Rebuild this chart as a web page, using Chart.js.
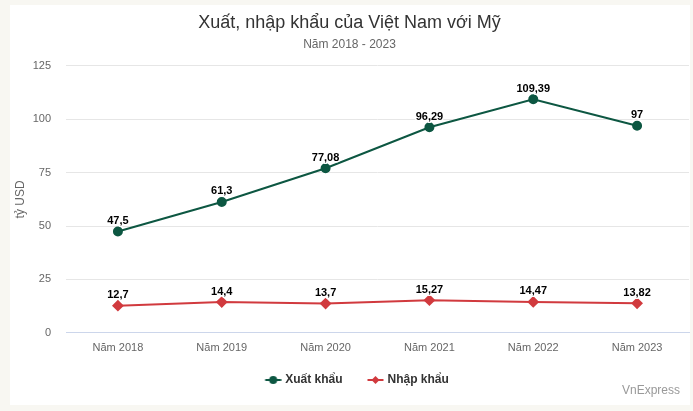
<!DOCTYPE html>
<html>
<head>
<meta charset="utf-8">
<script src="https://cdn.jsdelivr.net/npm/chart.js@4.4.1/dist/chart.umd.min.js"></script>
<style>
    html, body { margin: 0; padding: 0; background: #f8f7f2; }
    body { width: 693px; height: 411px; position: relative; overflow: hidden; font-family: "Liberation Sans", Arial, sans-serif; }
    #card { position: absolute; left: 10px; top: 5px; width: 680px; height: 400px; background: #fff; }
    #chart { display: block; }
    #credit { position: absolute; right: 10px; bottom: 8px; font-size: 12px; color: #999; }
</style>
</head>
<body>
<div id="card">
    <canvas id="chart" width="680" height="400"></canvas>
    <div id="credit">VnExpress</div>
</div>
<script>
// Chart data
const years = ['Năm 2018', 'Năm 2019', 'Năm 2020', 'Năm 2021', 'Năm 2022', 'Năm 2023'];
const exportValues = [47.5, 61.3, 77.08, 96.29, 109.39, 97];
const importValues = [12.7, 14.4, 13.7, 15.27, 14.47, 13.82];
const yTicks = [0, 25, 50, 75, 100, 125];

const GREEN = '#0d5742';
const RED = '#d13a3e';
const FONT = '"Liberation Sans", Arial, sans-serif';

// Legend symbol: short line with a marker on it, blank space on the left as item gap
function legendSymbol(color, shape) {
    const c = document.createElement('canvas');
    c.width = 34;
    c.height = 12;
    const ctx = c.getContext('2d');
    ctx.strokeStyle = color;
    ctx.fillStyle = color;
    ctx.lineWidth = 2;
    ctx.beginPath();
    ctx.moveTo(17.5, 6);
    ctx.lineTo(33.5, 6);
    ctx.stroke();
    ctx.beginPath();
    if (shape === 'circle') {
        ctx.arc(25.5, 6, 4, 0, Math.PI * 2);
    } else {
        ctx.moveTo(25.5, 2);
        ctx.lineTo(29.5, 6);
        ctx.lineTo(25.5, 10);
        ctx.lineTo(21.5, 6);
        ctx.closePath();
    }
    ctx.fill();
    return c;
}

// Value labels above points
const valueLabels = {
    id: 'valueLabels',
    afterDatasetsDraw(chart) {
        const ctx = chart.ctx;
        ctx.save();
        ctx.font = 'bold 11px ' + FONT;
        ctx.textAlign = 'center';
        ctx.textBaseline = 'bottom';
        ctx.lineJoin = 'round';
        chart.data.datasets.forEach((ds, i) => {
            chart.getDatasetMeta(i).data.forEach((pt, j) => {
                const text = String(ds.data[j]).replace('.', ',');
                ctx.lineWidth = 3;
                ctx.strokeStyle = '#fff';
                ctx.strokeText(text, pt.x, pt.y - 5);
                ctx.fillStyle = '#000';
                ctx.fillText(text, pt.x, pt.y - 5);
            });
        });
        ctx.restore();
    }
};

new Chart(document.getElementById('chart'), {
    type: 'line',
    data: {
        labels: years,
        datasets: [{
            label: 'Xuất khẩu',
            data: exportValues,
            borderColor: GREEN,
            backgroundColor: GREEN,
            borderWidth: 2,
            pointStyle: 'circle',
            pointRadius: 4,
            tension: 0
        }, {
            label: 'Nhập khẩu',
            data: importValues,
            borderColor: RED,
            backgroundColor: RED,
            borderWidth: 2,
            pointStyle: 'rectRot',
            pointRadius: 4.5,
            tension: 0
        }]
    },
    options: {
        responsive: false,
        animation: false,
        layout: { autoPadding: false, padding: { left: 0, right: 1, top: 1, bottom: 9 } },
        plugins: {
            title: {
                display: true,
                text: 'Xuất, nhập khẩu của Việt Nam với Mỹ',
                color: '#333',
                font: { family: FONT, size: 18, weight: 'normal' },
                padding: { top: 6, bottom: 4 }
            },
            subtitle: {
                display: true,
                text: 'Năm 2018 - 2023',
                color: '#666',
                font: { family: FONT, size: 12 },
                padding: { top: 0, bottom: 14 }
            },
            legend: {
                position: 'bottom',
                labels: {
                    color: '#333',
                    font: { family: FONT, size: 12, weight: 'bold' },
                    padding: 10,
                    usePointStyle: true,
                    pointStyleWidth: 29,
                    generateLabels(chart) {
                        return chart.data.datasets.map((ds, i) => ({
                            text: ds.label,
                            pointStyle: legendSymbol(ds.borderColor, i === 0 ? 'circle' : 'diamond'),
                            fontColor: '#333',
                            datasetIndex: i,
                            lineWidth: 0,
                            strokeStyle: 'transparent',
                            fillStyle: 'transparent'
                        }));
                    }
                }
            },
            tooltip: { enabled: false }
        },
        scales: {
            x: {
                offset: true,
                grid: { display: false, drawTicks: false },
                border: { display: true, color: '#ccd6eb', width: 1 },
                ticks: { color: '#666', font: { family: FONT, size: 11 }, padding: 9 }
            },
            y: {
                min: 0,
                max: 125,
                afterBuildTicks(scale) {
                    scale.ticks = yTicks.map(v => ({ value: v }));
                },
                afterFit(scale) {
                    scale.width = 56;
                },
                grid: { color: '#e6e6e6', drawTicks: false },
                border: { display: false },
                ticks: { color: '#666', font: { family: FONT, size: 11 }, padding: 15 },
                title: {
                    display: true,
                    text: 'tỷ USD',
                    color: '#666',
                    font: { family: FONT, size: 12 },
                    padding: { top: 3, bottom: 4 }
                }
            }
        }
    },
    plugins: [valueLabels]
});
</script>
</body>
</html>
